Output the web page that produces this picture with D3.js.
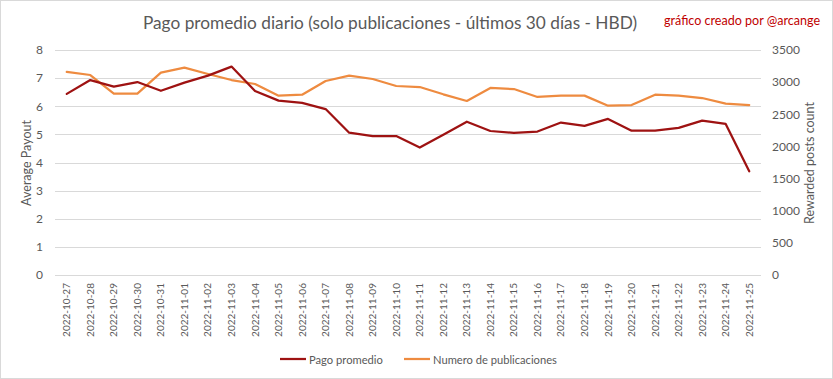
<!DOCTYPE html>
<html>
<head>
<meta charset="utf-8">
<script src="https://cdn.jsdelivr.net/npm/d3@7"></script>
<style>
  html, body { margin: 0; padding: 0; background: #fff; }
  svg { display: block; }
  text { font-family: Lato, "Open Sans", sans-serif; }
</style>
</head>
<body>
<svg id="chart" width="833" height="379"></svg>
<script>
const dates = ["2022-10-27","2022-10-28","2022-10-29","2022-10-30","2022-10-31","2022-11-01","2022-11-02","2022-11-03","2022-11-04","2022-11-05","2022-11-06","2022-11-07","2022-11-08","2022-11-09","2022-11-10","2022-11-11","2022-11-12","2022-11-13","2022-11-14","2022-11-15","2022-11-16","2022-11-17","2022-11-18","2022-11-19","2022-11-20","2022-11-21","2022-11-22","2022-11-23","2022-11-24","2022-11-25"];
const pagoPromedio = [6.44,6.93,6.70,6.86,6.55,6.84,7.09,7.41,6.54,6.20,6.12,5.90,5.06,4.94,4.94,4.53,4.99,5.45,5.12,5.05,5.10,5.42,5.30,5.55,5.13,5.13,5.23,5.49,5.37,3.69];
const numeroPublicaciones = [3158,3111,2821,2821,3147,3225,3127,3033,2971,2790,2805,3018,3100,3049,2940,2924,2811,2707,2909,2893,2769,2790,2790,2634,2644,2805,2790,2753,2665,2644];
const leftTicks = [0,1,2,3,4,5,6,7,8];
const rightTicks = [0,500,1000,1500,2000,2500,3000,3500];

const title = "Pago promedio diario (solo publicaciones - últimos 30 días - HBD)";
const credit = "gráfico creado por @arcange";
const leftTitle = "Average Payout";
const rightTitle = "Rewarded posts count";
const seriesNames = ["Pago promedio", "Numero de publicaciones"];

const W = 833, H = 379;
const plot = {left: 55, right: 761, top: 50, bottom: 275};
const red = "#9e1212", orange = "#ee8b40", gray = "#595959", grid = "#d9d9d9";

const svg = d3.select("#chart");

svg.append("rect").attr("x", 0.5).attr("y", 0.5).attr("width", W - 1).attr("height", H - 1)
  .attr("fill", "#fff").attr("stroke", "#d9d9d9");

const x = d3.scaleBand().domain(dates).range([plot.left, plot.right]);
const yL = d3.scaleLinear().domain([0, 8]).range([plot.bottom, plot.top]);
const yR = d3.scaleLinear().domain([0, 3500]).range([plot.bottom, plot.top]);

function fit(sel, target) {
  const n = sel.node();
  const w = n.getComputedTextLength();
  const fs = parseFloat(sel.attr("font-size"));
  const nf = fs * target / w;
  sel.attr("font-size", nf.toFixed(2));
  return nf;
}

// gridlines
svg.append("g").selectAll("line").data(leftTicks).join("line")
  .attr("x1", plot.left).attr("x2", plot.right)
  .attr("y1", d => Math.round(yL(d)) + 0.5).attr("y2", d => Math.round(yL(d)) + 0.5)
  .attr("stroke", grid).attr("stroke-width", 1);

// left axis
const gL = svg.append("g").attr("transform", `translate(${plot.left - 12},0)`)
  .call(d3.axisLeft(yL).tickValues(leftTicks).tickSize(0).tickPadding(0).tickFormat(d3.format("d")));
gL.select(".domain").remove();
gL.selectAll("text").attr("fill", gray).attr("font-size", 12).attr("font-family", "Lato, sans-serif");

// right axis
const gR = svg.append("g").attr("transform", `translate(${plot.right + 11},0)`)
  .call(d3.axisRight(yR).tickValues(rightTicks).tickSize(0).tickPadding(0).tickFormat(d3.format("d")));
gR.select(".domain").remove();
gR.selectAll("text").attr("fill", gray).attr("font-size", 12).attr("font-family", "Lato, sans-serif");

// x axis
const gX = svg.append("g").attr("transform", `translate(0,${plot.bottom})`)
  .call(d3.axisBottom(x).tickSize(0).tickPadding(0));
gX.select(".domain").remove();
const xt = gX.selectAll("text")
  .attr("fill", gray).attr("font-size", 11.5).attr("font-family", "Lato, sans-serif")
  .attr("transform", "rotate(-90)")
  .attr("text-anchor", "end").attr("dy", "0.35em").attr("x", -8).attr("y", 0);
const xfs = fit(d3.select(xt.nodes()[0]), 54);
xt.attr("font-size", xfs.toFixed(2));

// axis titles
svg.append("text").text(leftTitle)
  .attr("transform", `translate(31,${(plot.top + plot.bottom) / 2 + 0.5}) rotate(-90)`)
  .attr("text-anchor", "middle").attr("fill", gray).attr("font-size", 12.5);
svg.append("text").text(rightTitle)
  .attr("transform", `translate(814,${(plot.top + plot.bottom) / 2 + 0.5}) rotate(-90)`)
  .attr("text-anchor", "middle").attr("fill", gray).attr("font-size", 12.5);

// lines
const lineL = d3.line().x((d, i) => x(dates[i]) + x.bandwidth() / 2).y(d => yL(d));
const lineR = d3.line().x((d, i) => x(dates[i]) + x.bandwidth() / 2).y(d => yR(d));

svg.append("path").datum(numeroPublicaciones).attr("d", lineR)
  .attr("fill", "none").attr("stroke", orange).attr("stroke-width", 2.25)
  .attr("stroke-linejoin", "round").attr("stroke-linecap", "round");
svg.append("path").datum(pagoPromedio).attr("d", lineL)
  .attr("fill", "none").attr("stroke", red).attr("stroke-width", 2.25)
  .attr("stroke-linejoin", "round").attr("stroke-linecap", "round");

// title
const t = svg.append("text").text(title).attr("x", 390).attr("y", 29)
  .attr("text-anchor", "middle").attr("fill", gray).attr("font-size", 18);
fit(t, 494);
const c = svg.append("text").text(credit).attr("x", 664).attr("y", 25)
  .attr("fill", "#c00000").attr("font-size", 12);
fit(c, 156);

// legend
const legend = [
  {name: seriesNames[0], color: red, x0: 280, tx: 309, w: 74},
  {name: seriesNames[1], color: orange, x0: 404, tx: 433, w: 124}
];
const lg = svg.append("g");
legend.forEach(l => {
  lg.append("line").attr("x1", l.x0).attr("x2", l.x0 + 26).attr("y1", 359).attr("y2", 359)
    .attr("stroke", l.color).attr("stroke-width", 2.25);
  const tt = lg.append("text").text(l.name).attr("x", l.tx).attr("y", 363.5)
    .attr("fill", gray).attr("font-size", 12);
  fit(tt, l.w);
});
</script>
</body>
</html>
